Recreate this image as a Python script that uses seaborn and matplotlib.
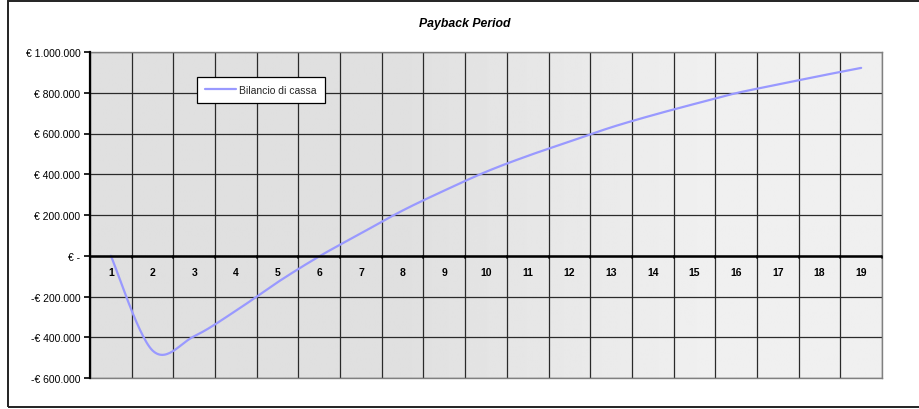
import numpy as np
import pandas as pd
import matplotlib
matplotlib.use("Agg")
import matplotlib.pyplot as plt
from matplotlib.patches import Rectangle
from matplotlib.ticker import FixedLocator, FuncFormatter
import seaborn as sns

# Cash balance per year (EUR)
years = list(range(1, 20))
balance = [0, -465000, -395000, -270000, -130000, -3000, 110000, 222000, 320000,
           412000, 490000, 560000, 630000, 690000, 745000, 798000, 840000, 882000, 922000]
series_name = "Bilancio di cassa"
title = "Payback Period"
y_ticks = [-600000, -400000, -200000, 0, 200000, 400000, 600000, 800000, 1000000]

sns.set_theme(style="white")
plt.rcParams["font.family"] = ["Liberation Sans", "DejaVu Sans"]

fig = plt.figure(figsize=(9.19, 4.10), dpi=100)
ax = fig.add_axes([90 / 919, 1 - 379 / 410, 792 / 919, 326 / 410])

n = len(years)
ax.set_xlim(0.5, n + 0.5)
ax.set_ylim(-600000, 1000000)

# horizontal grey gradient behind the plot area
grad = np.interp(np.linspace(0, 1, 400), [0, 0.4, 0.78, 1], [0.878, 0.878, 0.94, 0.94])
ax.imshow(grad[None, :], cmap="gray", vmin=0, vmax=1, aspect="auto",
          extent=[0.5, n + 0.5, -600000, 1000000], zorder=0, interpolation="bilinear")

# grid: vertical lines between categories, horizontal at each major tick
for xb in np.arange(0.5, n + 1.0, 1.0):
    ax.axvline(xb, color="#2a2a2a", lw=0.9, zorder=1)
for yv in y_ticks:
    ax.axhline(yv, color="#2a2a2a", lw=0.9, zorder=1)

# smoothed line (cubic Bezier segments through the points, Catmull-Rom tangents)
xs = np.array(years, dtype=float)
ys = np.array(balance, dtype=float)
sx, sy = [], []
for i in range(n - 1):
    p0 = i - 1 if i > 0 else i
    p3 = i + 2 if i + 2 < n else i + 1
    c1x = xs[i] + (xs[i + 1] - xs[p0]) / 6
    c1y = ys[i] + (ys[i + 1] - ys[p0]) / 6
    c2x = xs[i + 1] - (xs[p3] - xs[i]) / 6
    c2y = ys[i + 1] - (ys[p3] - ys[i]) / 6
    t = np.linspace(0, 1, 30)
    bx = (1 - t) ** 3 * xs[i] + 3 * (1 - t) ** 2 * t * c1x + 3 * (1 - t) * t ** 2 * c2x + t ** 3 * xs[i + 1]
    by = (1 - t) ** 3 * ys[i] + 3 * (1 - t) ** 2 * t * c1y + 3 * (1 - t) * t ** 2 * c2y + t ** 3 * ys[i + 1]
    sx.extend(bx)
    sy.extend(by)
smooth = pd.DataFrame({"x": sx, "y": sy})
sns.lineplot(data=smooth, x="x", y="y", sort=False, color="#9999ff", lw=1.6,
             label=series_name, ax=ax, zorder=4)

# plot area frame
for side in ["top", "right", "bottom"]:
    ax.spines[side].set_visible(True)
    ax.spines[side].set_color("#808080")
    ax.spines[side].set_linewidth(1.0)
ax.spines["left"].set_color("black")
ax.spines["left"].set_linewidth(1.6)
ax.spines["left"].set_zorder(5)

# zero axis with category tick marks
ax.axhline(0, color="black", lw=1.8, zorder=5)
for xb in np.arange(0.5, n + 1.0, 1.0):
    ax.plot([xb, xb], [0, -12000], color="black", lw=1.2, zorder=5, clip_on=False)

def euro(v, pos=None):
    if v == 0:
        return "€ -"
    s = f"{abs(int(v)):,}".replace(",", ".")
    return ("-€ " if v < 0 else "€ ") + s

ax.yaxis.set_major_locator(FixedLocator(y_ticks))
ax.yaxis.set_major_formatter(FuncFormatter(euro))
ax.tick_params(axis="y", which="major", left=True, length=4, width=1.2, color="black",
               labelsize=7.5, pad=3, colors="black")
ax.set_xticks([])
ax.set_xlabel("")
ax.set_ylabel("")

# category labels just under the zero axis
for xv in years:
    ax.text(xv, -78000, str(xv), ha="center", va="center", fontsize=7.5,
            fontweight="bold", color="black", zorder=6)

leg = ax.legend(loc="upper left", bbox_to_anchor=(107 / 792, 1 - 25 / 326), frameon=True,
                fancybox=False, fontsize=7.5, handlelength=3.0, handletextpad=0.3,
                borderpad=0.75, borderaxespad=0)
leg.get_frame().set_edgecolor("black")
leg.get_frame().set_linewidth(0.9)
leg.get_frame().set_facecolor("white")
leg.get_frame().set_alpha(1)
leg.set_zorder(7)

fig.text(465 / 919, 1 - 24 / 410, title, ha="center", va="center", fontsize=8.8,
         fontweight="bold", fontstyle="italic", color="black")

# outer chart border
fig.patches.append(Rectangle((8 / 919, 1 - 408 / 410), 0.995, 406 / 410, transform=fig.transFigure,
                             fill=False, edgecolor="#222222", lw=1.4))

fig.savefig("out.png", dpi=100)
